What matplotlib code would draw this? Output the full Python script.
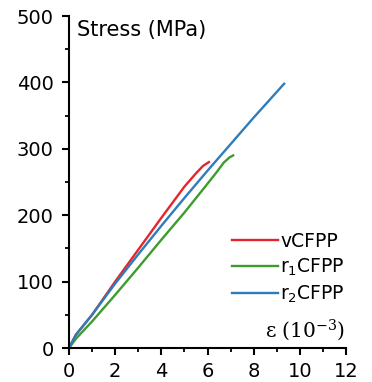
import matplotlib
matplotlib.use("Agg")
import matplotlib.pyplot as plt
from matplotlib.ticker import MultipleLocator

# data
v_strain = [0, 0.3, 1.0, 2.0, 3.0, 4.0, 5.0, 5.5, 5.8, 6.06]
v_stress = [0, 20, 50, 100, 148, 196, 243, 263, 274, 280]
r1_strain = [0, 0.3, 1.0, 2.0, 3.0, 4.0, 5.0, 5.9, 6.4, 6.7, 6.95, 7.11]
r1_stress = [0, 14, 40, 80, 121, 163, 204, 243, 265, 279, 287, 290]
r2_strain = [0, 0.3, 1.0, 2.0, 3.0, 4.0, 5.0, 6.0, 7.0, 8.0, 9.32]
r2_stress = [0, 20, 50, 97, 141, 184, 226, 267, 307, 347, 398]
labels = ["vCFPP", r"r$_1$CFPP", r"r$_2$CFPP"]
colors = ["#e3262d", "#3c9c2c", "#2f7cba"]

fig = plt.figure(figsize=(3.72, 3.82), dpi=100)
ax = fig.add_axes([69/372, 1-348/382, (346-69)/372, (348-16)/382])

for xs, ys, lab, c in zip([v_strain, r1_strain, r2_strain],
                          [v_stress, r1_stress, r2_stress], labels, colors):
    ax.plot(xs, ys, color=c, lw=1.7, label=lab)

ax.set_xlim(0, 12)
ax.set_ylim(0, 500)
ax.xaxis.set_major_locator(MultipleLocator(2))
ax.xaxis.set_minor_locator(MultipleLocator(1))
ax.yaxis.set_major_locator(MultipleLocator(100))
ax.yaxis.set_minor_locator(MultipleLocator(50))
for s in ["top", "right"]:
    ax.spines[s].set_visible(False)
for s in ["left", "bottom"]:
    ax.spines[s].set_linewidth(1.5)
ax.tick_params(which="major", direction="out", length=5, width=1.5,
               labelsize=14, pad=5)
ax.tick_params(which="minor", direction="out", length=3, width=1.3)
ax.tick_params(axis="y", which="major", pad=6)

ax.text(0.03, 0.988, "Stress (MPa)", transform=ax.transAxes, fontsize=15,
        va="top", ha="left")
ax.text(0.995, 0.055, r"ε (10$^{-3}$)", transform=ax.transAxes, fontsize=14.5,
        va="center", ha="right", family="DejaVu Serif",
        math_fontfamily="dejavuserif")

leg = ax.legend(loc="center left", bbox_to_anchor=(0.562, 0.24), frameon=False,
                fontsize=13.5, handlelength=2.45, handletextpad=0.12,
                labelspacing=0.3, borderaxespad=0)

fig.savefig("out.png", dpi=100, facecolor="white")
